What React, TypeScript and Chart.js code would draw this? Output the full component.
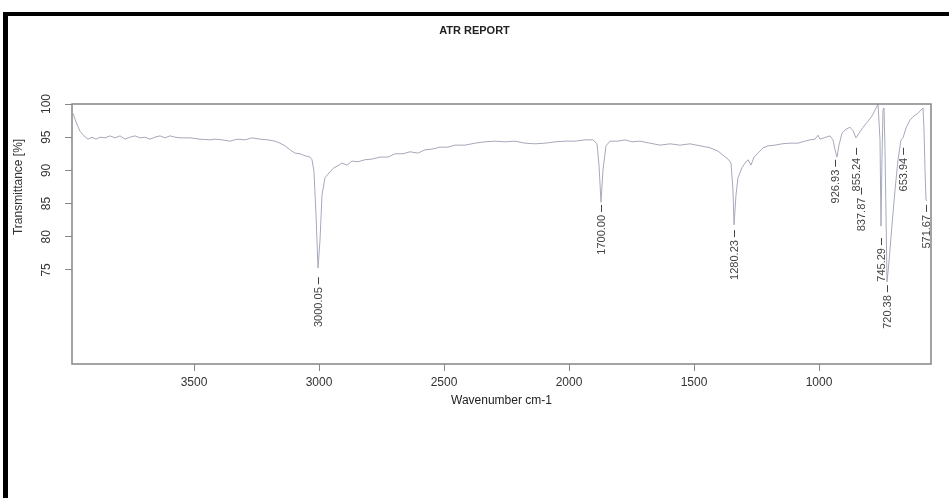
import React, { useEffect, useRef } from "react";
import { Chart, registerables } from "chart.js";

Chart.register(...registerables);

// Spectrum (wavenumber cm-1, transmittance %)
const wavenumbers = [
  3984, 3972, 3956, 3940, 3924, 3908, 3892, 3876, 3856, 3836, 3816, 3796, 3776, 3756, 3736, 3716,
  3696, 3676, 3656, 3636, 3616, 3596, 3576, 3556, 3516, 3476, 3436, 3416, 3388, 3356, 3328, 3296,
  3268, 3236, 3204, 3176, 3156, 3136, 3116, 3096, 3076, 3056, 3036, 3028, 3020, 3012, 3004, 2996,
  2988, 2976, 2956, 2940, 2924, 2908, 2888, 2868, 2844, 2816, 2788, 2756, 2724, 2696, 2664, 2636,
  2604, 2576, 2548, 2516, 2484, 2456, 2416, 2376, 2336, 2296, 2256, 2216, 2176, 2136, 2096, 2056,
  2016, 1976, 1936, 1904, 1888, 1880, 1872, 1864, 1852, 1836, 1804, 1776, 1748, 1716, 1676, 1636,
  1596, 1556, 1516, 1476, 1436, 1404, 1384, 1364, 1352, 1344, 1340, 1332, 1324, 1308, 1296, 1284,
  1272, 1260, 1244, 1224, 1204, 1176, 1148, 1116, 1084, 1056, 1036, 1016, 1004, 996, 972, 956,
  944, 936, 928, 920, 908, 892, 876, 864, 852, 840, 824, 804, 788, 772, 764, 756,
  752, 748, 744, 740, 736, 728, 720, 708, 696, 684, 672, 664, 652, 636, 620, 604,
  592, 584, 580, 576, 572, 568,
];
const transmittance = [
  98.6, 97.3, 95.9, 95.2, 94.7, 95.0, 94.7, 95.0, 94.9, 95.2, 94.9, 95.2, 94.7, 95.0, 95.2, 94.9,
  95.0, 94.7, 95.0, 95.2, 94.9, 95.2, 95.0, 94.9, 94.9, 94.7, 94.6, 94.7, 94.6, 94.4, 94.7, 94.6,
  94.9, 94.7, 94.6, 94.4, 94.1, 93.7, 93.1, 92.6, 92.5, 92.2, 92.0, 91.6, 89.8, 83.3, 75.3, 79.5,
  86.3, 88.9, 89.8, 90.4, 90.7, 91.1, 90.8, 91.4, 91.3, 91.6, 91.7, 92.0, 92.0, 92.5, 92.5, 92.8,
  92.6, 93.1, 93.2, 93.5, 93.5, 93.8, 93.8, 94.1, 94.3, 94.4, 94.3, 94.4, 94.1, 94.0, 94.1, 94.3,
  94.4, 94.4, 94.6, 94.6, 94.0, 90.8, 85.2, 90.1, 93.7, 94.4, 94.4, 94.6, 94.3, 94.4, 94.1, 93.8,
  94.0, 93.8, 94.0, 93.7, 93.4, 92.9, 92.3, 91.7, 91.1, 87.0, 81.8, 86.3, 88.9, 90.4, 91.1, 91.6,
  90.8, 92.0, 92.6, 93.4, 93.7, 93.8, 94.0, 94.1, 94.1, 94.4, 94.6, 94.7, 95.3, 94.7, 95.0, 95.2,
  94.6, 93.1, 92.0, 93.8, 95.6, 96.2, 96.5, 96.0, 94.9, 95.6, 96.5, 97.4, 98.2, 99.4, 100.0, 94.6,
  81.6, 92.0, 99.1, 99.4, 93.1, 73.2, 76.2, 81.8, 87.0, 91.6, 94.6, 94.9, 96.4, 97.6, 98.2, 98.6,
  99.1, 99.4, 96.1, 90.1, 85.5, 85.5,
];

// Peak annotations
const peakPositions = [3004, 1872, 1340, 936, 854, 832, 752, 728, 664, 572];
const peakTexts = ["3000.05", "1700.00", "1280.23", "926.93", "855.24", "837.87", "745.29", "720.38", "653.94", "571.67"];
const peakLabelTop = [73.9, 84.8, 81.0, 91.6, 93.4, 87.4, 79.8, 72.7, 93.4, 84.8];

// Axis ticks
const xTickValues = [3500, 3000, 2500, 2000, 1500, 1000];
const yTickValues = [75, 80, 85, 90, 95, 100];

const chartTitle = "ATR REPORT";
const xTitle = "Wavenumber cm-1";
const yTitle = "Transmittance [%]";

const FONT = "'Liberation Sans', Arial, sans-serif";

const annotatePlugin = {
  id: "annotate",
  afterDraw(chart: any) {
    const { ctx, chartArea, scales } = chart;
    const xs = scales.x;
    const ys = scales.y;
    ctx.save();
    // plot box
    ctx.strokeStyle = "#858585";
    ctx.lineWidth = 1.5;
    ctx.strokeRect(chartArea.left, chartArea.top, chartArea.right - chartArea.left, chartArea.bottom - chartArea.top);

    // title
    ctx.fillStyle = "#222";
    ctx.font = `bold 11px ${FONT}`;
    ctx.textAlign = "center";
    ctx.textBaseline = "middle";
    ctx.fillText(chartTitle, chart.width / 2, 31);

    // y tick labels, rotated
    ctx.font = `12px ${FONT}`;
    ctx.fillStyle = "#333";
    ys.ticks.forEach((t: any) => {
      const y = ys.getPixelForValue(t.value);
      ctx.save();
      ctx.translate(47, y);
      ctx.rotate(-Math.PI / 2);
      ctx.textAlign = "center";
      ctx.textBaseline = "middle";
      ctx.fillText(String(t.value), 0, 0);
      ctx.restore();
    });

    // y title centred on the tick range
    const yMid = (ys.getPixelForValue(yTickValues[0]) + ys.getPixelForValue(yTickValues[yTickValues.length - 1])) / 2;
    ctx.save();
    ctx.translate(19, yMid);
    ctx.rotate(-Math.PI / 2);
    ctx.textAlign = "center";
    ctx.textBaseline = "middle";
    ctx.font = `12px ${FONT}`;
    ctx.fillText(yTitle, 0, 0);
    ctx.restore();

    // peak labels
    ctx.font = `11px ${FONT}`;
    ctx.fillStyle = "#444";
    ctx.strokeStyle = "#444";
    ctx.lineWidth = 1;
    peakPositions.forEach((wn, i) => {
      const x = Math.round(xs.getPixelForValue(wn)) + 0.5;
      const yTop = ys.getPixelForValue(peakLabelTop[i]);
      ctx.beginPath();
      ctx.moveTo(x, yTop);
      ctx.lineTo(x, yTop + 7);
      ctx.stroke();
      ctx.save();
      ctx.translate(x, yTop + 10);
      ctx.rotate(-Math.PI / 2);
      ctx.textAlign = "right";
      ctx.textBaseline = "middle";
      ctx.fillText(peakTexts[i], 0, 0);
      ctx.restore();
    });
    ctx.restore();
  },
};

export default function App() {
  const ref = useRef<HTMLCanvasElement | null>(null);
  useEffect(() => {
    if (!ref.current) return;
    const chart = new Chart(ref.current, {
      type: "line",
      data: {
        datasets: [
          {
            data: wavenumbers.map((w, i) => ({ x: w, y: transmittance[i] })),
            borderColor: "#a6a9bb",
            borderWidth: 1,
            pointRadius: 0,
            tension: 0,
            fill: false,
          },
        ],
      },
      options: {
        animation: false,
        responsive: false,
        maintainAspectRatio: false,
        events: [],
        layout: { padding: { left: 0, top: 104, right: 18, bottom: 84 } },
        plugins: { legend: { display: false }, tooltip: { enabled: false }, title: { display: false } },
        scales: {
          x: {
            type: "linear",
            reverse: true,
            min: 552,
            max: 3988,
            afterBuildTicks: (s: any) => {
              s.ticks = xTickValues.map((v) => ({ value: v }));
            },
            afterFit: (s: any) => {
              s.height = 50;
            },
            grid: { drawOnChartArea: false, drawTicks: true, tickLength: 7, color: "#888", lineWidth: 1 },
            border: { display: false },
            ticks: {
              padding: 4,
              color: "#333",
              font: { family: FONT, size: 12 },
              maxRotation: 0,
              autoSkip: false,
              callback: (v: any) => String(v),
            },
            title: { display: true, text: xTitle, color: "#222", font: { family: FONT, size: 12 }, padding: { top: 0, bottom: 6 } },
          },
          y: {
            type: "linear",
            min: 60.83,
            max: 100,
            afterBuildTicks: (s: any) => {
              s.ticks = yTickValues.map((v) => ({ value: v }));
            },
            afterFit: (s: any) => {
              s.width = 72;
            },
            grid: { drawOnChartArea: false, drawTicks: true, tickLength: 7, color: "#888", lineWidth: 1 },
            border: { display: false },
            ticks: { display: false },
          },
        },
      },
      plugins: [annotatePlugin],
    });
    return () => chart.destroy();
  }, []);

  return (
    <div style={{ position: "fixed", left: 0, top: 0, width: 949, height: 498, overflow: "hidden", background: "#fff" }}>
      <canvas ref={ref} width={949} height={498} style={{ position: "absolute", left: 0, top: 0, width: 949, height: 498 }} />
      <div
        style={{
          position: "absolute",
          left: 3,
          top: 12,
          width: 1100,
          height: 700,
          borderLeft: "5px solid #000",
          borderTop: "4px solid #000",
          pointerEvents: "none",
        }}
      />
    </div>
  );
}
